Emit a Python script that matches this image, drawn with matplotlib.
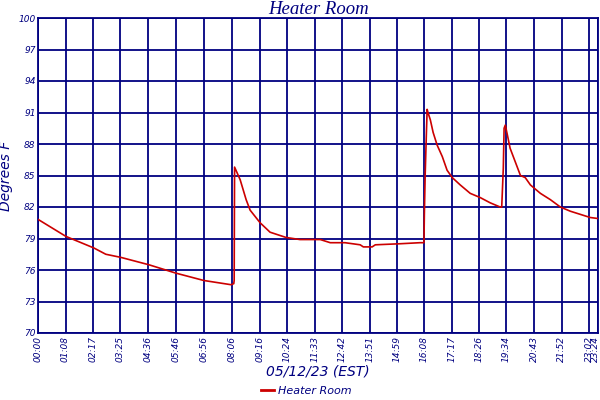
import matplotlib.pyplot as plt
import matplotlib.lines as mlines
import matplotlib.transforms as mtransforms

# readings of the Heater Room sensor, 05/12/23
times = ['00:00', '01:09', '02:19', '02:49', '03:27', '04:37', '05:45', '06:55',
         '08:03', '08:10', '08:11', '08:12', '08:26', '08:41', '08:51', '09:16',
         '09:41', '10:21', '10:56', '11:47', '12:12', '12:49', '13:27', '13:35',
         '13:57', '14:05', '15:07', '15:57', '16:07', '16:08', '16:10', '16:13',
         '16:15', '16:17', '16:23', '16:30', '16:40', '16:53', '17:05', '17:18',
         '17:38', '18:03', '18:28', '18:53', '19:18', '19:22', '19:23', '19:26',
         '19:28', '19:31', '19:36', '19:43', '19:56', '20:09', '20:21', '20:34',
         '20:59', '21:24', '21:49', '22:14', '22:39', '23:04', '23:24']
temps = [80.8, 79.2, 78.1, 77.5, 77.2, 76.5, 75.7, 75.0,
         74.6, 74.7, 75.0, 85.8, 84.6, 82.7, 81.7, 80.5,
         79.6, 79.1, 78.9, 78.9, 78.6, 78.6, 78.4, 78.2,
         78.2, 78.4, 78.5, 78.6, 78.6, 81.3, 85.0, 88.9,
         91.3, 91.0, 90.3, 89.1, 87.9, 86.8, 85.5, 84.8,
         84.1, 83.3, 82.9, 82.4, 82.0, 82.0, 82.9, 85.7,
         89.5, 89.8, 88.9, 87.6, 86.3, 85.0, 84.8, 84.1,
         83.3, 82.7, 82.0, 81.6, 81.3, 81.0, 80.9]

tick_labels = ['00:00', '01:08', '02:17', '03:25', '04:36', '05:46', '06:56',
               '08:06', '09:16', '10:24', '11:33', '12:42', '13:51', '14:59',
               '16:08', '17:17', '18:26', '19:34', '20:43', '21:52', '23:02', '23:24']
y_ticks = [70, 73, 76, 79, 82, 85, 88, 91, 94, 97, 100]


def to_min(s):
    h, m = s.split(':')
    return int(h) * 60 + int(m)


x = [to_min(t) for t in times]
xt = [to_min(t) for t in tick_labels]

navy = '#000080'
red = '#CC0000'

fig = plt.figure(figsize=(6, 4), dpi=100)
ax = fig.add_axes([0.064, 0.1675, 0.933, 0.7875])

ax.plot(x, temps, color=red, lw=1.2, zorder=3)

ax.set_xlim(0, to_min('23:24'))
ax.set_ylim(70, 100)
ax.set_xticks(xt)
ax.set_xticklabels(tick_labels, rotation=90, fontsize=6.5, style='italic',
                   color=navy, family='DejaVu Sans')
ax.set_yticks(y_ticks)
ax.set_yticklabels([str(v) for v in y_ticks], fontsize=6.5, style='italic',
                   color=navy, family='DejaVu Sans')
ax.tick_params(length=0, pad=2)
ax.grid(True, color=navy, lw=1.3)
for s in ax.spines.values():
    s.set_color(navy)
    s.set_linewidth(1.3)

# last label sits on the right edge, nudge it inside
last = ax.get_xticklabels()[-1]
last.set_transform(last.get_transform() +
                   mtransforms.ScaledTranslation(-3 / 100, 0, fig.dpi_scale_trans))

ax.set_title('Heater Room', fontsize=13.5, style='italic', color=navy,
             family='Liberation Serif', pad=3)
ax.set_ylabel('Degrees F', fontsize=10, style='italic', color=navy,
              family='DejaVu Sans', labelpad=4)
ax.set_xlabel('05/12/23 (EST)', fontsize=10, style='italic', color=navy,
              family='DejaVu Sans', labelpad=2)

h = mlines.Line2D([], [], color=red, lw=2)
leg = fig.legend([h], ['Heater Room'], loc='center', bbox_to_anchor=(0.51, 0.022),
                 frameon=False, handlelength=1.2, handletextpad=0.3,
                 prop={'size': 8, 'style': 'italic', 'family': 'DejaVu Sans'})
for t in leg.get_texts():
    t.set_color(navy)

fig.savefig('out.png', dpi=100)
